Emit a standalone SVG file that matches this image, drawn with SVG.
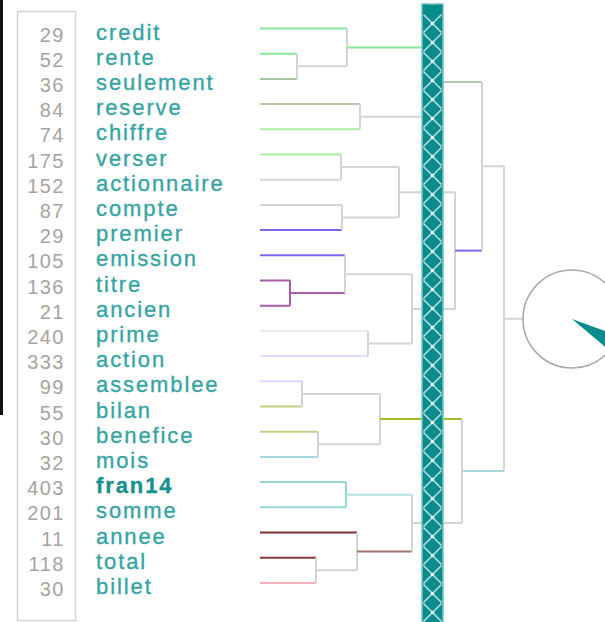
<svg xmlns="http://www.w3.org/2000/svg" width="605" height="622" viewBox="0 0 605 622">
<style>
.w{font-family:"Liberation Sans",Arial,sans-serif;font-size:22px;letter-spacing:1.9px;fill:#36a4a4;stroke:#36a4a4;stroke-width:0.35}
.b{font-weight:bold;fill:#17908f;stroke:#17908f}
.n{font-family:"Liberation Sans",Arial,sans-serif;font-size:20px;letter-spacing:1.5px;fill:#a8a2a2;text-anchor:end}
#connectors path{fill:none;stroke-width:2;stroke:#d4d4d4}
</style>
<defs>
<pattern id="xs" patternUnits="userSpaceOnUse" x="422" y="14" width="21" height="19">
<rect width="21" height="19" fill="#0b8c8c"/>
<path d="M1.5,0.5 L19.5,18.5 M19.5,0.5 L1.5,18.5" stroke="#e6f6f6" stroke-width="1.5" stroke-opacity="0.8" fill="none"/>
<circle cx="10.5" cy="9.5" r="1.7" fill="#ffffff"/>
</pattern>
</defs>
<rect x="0" y="0" width="605" height="622" fill="#ffffff"/>
<rect x="0" y="0" width="3" height="415" fill="#111111"/>
<rect x="17.5" y="11.5" width="58" height="609" fill="none" stroke="#d4d4d4" stroke-width="1.5"/>

<g id="connectors">
<path d="M260,28.5 H347" style="stroke:#86e89a"/>
<path d="M260,53.7 H297" style="stroke:#86e89a"/>
<path d="M260,78.9 H297" style="stroke:#a9c3a0"/>
<path d="M297,53.7 V78.9 M297,66.3 H347 M347,28.5 V66.3"/>
<path d="M347,47.4 H430" style="stroke:#86e89a"/>
<path d="M260,104.1 H360" style="stroke:#b3c9a9"/>
<path d="M260,129.3 H360" style="stroke:#aaf0a0"/>
<path d="M360,104.1 V129.3 M360,116.7 H430 M430,47.4 V116.7"/>
<path d="M430,82 H482" style="stroke:#b0c8a8"/>
<path d="M260,154.5 H341" style="stroke:#aaf0a0"/>
<path d="M260,179.7 H341" style="stroke:#d8d8d8"/>
<path d="M341,154.5 V179.7 M341,167.1 H399"/>
<path d="M260,204.9 H342"/>
<path d="M260,230.1 H342" style="stroke:#7b68ee"/>
<path d="M342,204.9 V230.1 M342,217.5 H399 M399,167.1 V217.5 M399,192.3 H455"/>
<path d="M260,255.3 H345" style="stroke:#7b68ee"/>
<path d="M260,280.5 H290 M260,305.7 H290 M290,280.5 V305.7 M290,293.1 H345" style="stroke:#a65fa6"/>
<path d="M345,255.3 V293.1 M345,274.2 H412"/>
<path d="M260,330.9 H368" style="stroke:#e3f0e3"/>
<path d="M260,356.1 H368" style="stroke:#e6dafa"/>
<path d="M368,330.9 V356.1 M368,343.5 H412 M412,274.2 V343.5 M412,308.9 H455 M455,192.3 V308.9"/>
<path d="M455,250.6 H482" style="stroke:#7b68ee"/>
<path d="M482,82 V250.6 M482,166.3 H504"/>
<path d="M260,381.3 H302" style="stroke:#e3d5fa"/>
<path d="M260,406.5 H302" style="stroke:#c8d184"/>
<path d="M302,381.3 V406.5 M302,393.9 H380"/>
<path d="M260,431.7 H318" style="stroke:#c4cf84"/>
<path d="M260,456.9 H318" style="stroke:#a3dada"/>
<path d="M318,431.7 V456.9 M318,444.3 H380 M380,393.9 V444.3"/>
<path d="M380,419.1 H462" style="stroke:#a4bb1e"/>
<path d="M260,482.1 H346 M260,507.3 H346 M346,482.1 V507.3" style="stroke:#97d4d4"/>
<path d="M346,494.7 H412" style="stroke:#b0dfdf"/>
<path d="M260,532.5 H357" style="stroke:#7f2e2e"/>
<path d="M260,557.7 H316" style="stroke:#86393c"/>
<path d="M260,582.9 H316" style="stroke:#f5b3bb"/>
<path d="M316,557.7 V582.9 M316,570.3 H357 M357,532.5 V570.3"/>
<path d="M357,551.4 H412" style="stroke:#a27272"/>
<path d="M412,494.7 V551.4 M412,523 H462 M462,419.1 V523"/>
<path d="M462,471 H504" style="stroke:#a6dada"/>
<path d="M504,166.3 V471 M504,318.7 H523"/>
</g>

<g id="bar">
<rect x="422" y="4" width="21" height="620" fill="url(#xs)" stroke="#74c6c6" stroke-width="1.5"/>
<rect x="422.75" y="4.75" width="19.5" height="9.5" fill="#0b8c8c"/>
</g>

<g id="root">
<circle cx="572" cy="319" r="49" fill="#ffffff" stroke="#a8a8a8" stroke-width="1.5"/>
<path d="M572,319 L618,335.8 A49,49 0 0 1 609.5,350.5 Z" fill="#0b8c8c"/>
</g>

<g id="n-credit"><text class="n" x="65" y="41.5">29</text><text class="w" x="96" y="39.5">credit</text></g>
<g id="n-rente"><text class="n" x="65" y="66.7">52</text><text class="w" x="96" y="64.7">rente</text></g>
<g id="n-seulement"><text class="n" x="65" y="91.9">36</text><text class="w" x="96" y="89.9">seulement</text></g>
<g id="n-reserve"><text class="n" x="65" y="117.1">84</text><text class="w" x="96" y="115.1">reserve</text></g>
<g id="n-chiffre"><text class="n" x="65" y="142.3">74</text><text class="w" x="96" y="140.3">chiffre</text></g>
<g id="n-verser"><text class="n" x="65" y="167.5">175</text><text class="w" x="96" y="165.5">verser</text></g>
<g id="n-actionnaire"><text class="n" x="65" y="192.7">152</text><text class="w" x="96" y="190.7">actionnaire</text></g>
<g id="n-compte"><text class="n" x="65" y="217.9">87</text><text class="w" x="96" y="215.9">compte</text></g>
<g id="n-premier"><text class="n" x="65" y="243.1">29</text><text class="w" x="96" y="241.1">premier</text></g>
<g id="n-emission"><text class="n" x="65" y="268.3">105</text><text class="w" x="96" y="266.3">emission</text></g>
<g id="n-titre"><text class="n" x="65" y="293.5">136</text><text class="w" x="96" y="291.5">titre</text></g>
<g id="n-ancien"><text class="n" x="65" y="318.7">21</text><text class="w" x="96" y="316.7">ancien</text></g>
<g id="n-prime"><text class="n" x="65" y="343.9">240</text><text class="w" x="96" y="341.9">prime</text></g>
<g id="n-action"><text class="n" x="65" y="369.1">333</text><text class="w" x="96" y="367.1">action</text></g>
<g id="n-assemblee"><text class="n" x="65" y="394.3">99</text><text class="w" x="96" y="392.3">assemblee</text></g>
<g id="n-bilan"><text class="n" x="65" y="419.5">55</text><text class="w" x="96" y="417.5">bilan</text></g>
<g id="n-benefice"><text class="n" x="65" y="444.7">30</text><text class="w" x="96" y="442.7">benefice</text></g>
<g id="n-mois"><text class="n" x="65" y="469.9">32</text><text class="w" x="96" y="467.9">mois</text></g>
<g id="n-fran14"><text class="n" x="65" y="495.1">403</text><text class="w b" x="96" y="493.1">fran14</text></g>
<g id="n-somme"><text class="n" x="65" y="520.3">201</text><text class="w" x="96" y="518.3">somme</text></g>
<g id="n-annee"><text class="n" x="65" y="545.5">11</text><text class="w" x="96" y="543.5">annee</text></g>
<g id="n-total"><text class="n" x="65" y="570.7">118</text><text class="w" x="96" y="568.7">total</text></g>
<g id="n-billet"><text class="n" x="65" y="595.9">30</text><text class="w" x="96" y="593.9">billet</text></g>
</svg>
